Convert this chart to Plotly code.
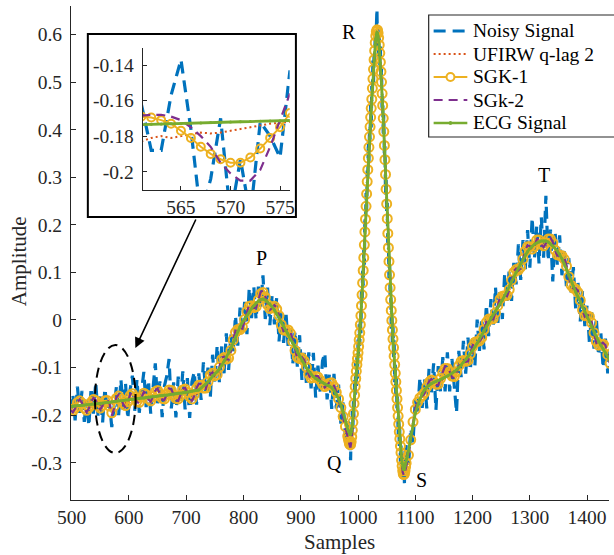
import plotly.graph_objects as go

# ---------------- data ----------------
# sample grid: every 4th sample, every sample through the QRS complex
SAMPLES = list(range(498, 983, 4)) + list(range(983, 1085)) + list(range(1088, 1441, 4))

ECG = [
    -0.182, -0.181, -0.181, -0.180, -0.180, -0.179, -0.179, -0.178, -0.178, -0.177,
    -0.177, -0.176, -0.176, -0.175, -0.175, -0.174, -0.173, -0.173, -0.172, -0.171,
    -0.171, -0.170, -0.170, -0.169, -0.168, -0.168, -0.167, -0.167, -0.166, -0.165,
    -0.165, -0.164, -0.164, -0.163, -0.162, -0.162, -0.161, -0.161, -0.160, -0.159,
    -0.159, -0.158, -0.158, -0.157, -0.156, -0.156, -0.155, -0.154, -0.154, -0.153,
    -0.153, -0.152, -0.151, -0.150, -0.149, -0.148, -0.147, -0.143, -0.139, -0.135,
    -0.130, -0.124, -0.118, -0.113, -0.109, -0.103, -0.095, -0.087, -0.078, -0.070,
    -0.060, -0.048, -0.036, -0.024, -0.014, -0.005, 0.003, 0.010, 0.017, 0.024,
    0.030, 0.036, 0.040, 0.043, 0.044, 0.042, 0.038, 0.034, 0.028, 0.021,
    0.013, 0.005, -0.004, -0.013, -0.022, -0.031, -0.040, -0.049, -0.058, -0.068,
    -0.077, -0.086, -0.094, -0.101, -0.108, -0.114, -0.119, -0.123, -0.126, -0.129,
    -0.131, -0.134, -0.137, -0.139, -0.142, -0.148, -0.156, -0.166, -0.178, -0.193,
    -0.212, -0.230,
    -0.233, -0.236, -0.239, -0.240, -0.240, -0.236, -0.230, -0.221, -0.209, -0.195,
    -0.178, -0.160, -0.142, -0.125, -0.110, -0.096, -0.083, -0.071, -0.058, -0.044,
    -0.029, -0.012, 0.007, 0.028, 0.051, 0.076, 0.102, 0.129, 0.156, 0.183,
    0.210, 0.237, 0.263, 0.289, 0.314, 0.338, 0.361, 0.383, 0.404, 0.424,
    0.443, 0.462, 0.485, 0.505, 0.525, 0.545, 0.563, 0.579, 0.591, 0.600,
    0.604, 0.603, 0.597, 0.587, 0.574, 0.558, 0.540, 0.520, 0.498, 0.474,
    0.449, 0.422, 0.394, 0.365, 0.335, 0.304, 0.273, 0.242, 0.211, 0.180,
    0.150, 0.121, 0.093, 0.066, 0.041, 0.018, -0.003, -0.023, -0.042, -0.060,
    -0.078, -0.096, -0.114, -0.132, -0.150, -0.168, -0.186, -0.204, -0.221, -0.237,
    -0.252, -0.266, -0.279, -0.291, -0.301, -0.309, -0.314, -0.315, -0.313, -0.308,
    -0.301, -0.293,
    -0.276, -0.248, -0.218, -0.196, -0.179, -0.166, -0.155, -0.147, -0.141, -0.137,
    -0.134, -0.131, -0.129, -0.127, -0.125, -0.123, -0.120, -0.118, -0.115, -0.112,
    -0.109, -0.105, -0.100, -0.095, -0.089, -0.083, -0.077, -0.071, -0.064, -0.057,
    -0.049, -0.040, -0.031, -0.022, -0.013, -0.004, 0.004, 0.011, 0.019, 0.026,
    0.034, 0.042, 0.051, 0.060, 0.070, 0.080, 0.090, 0.100, 0.109, 0.119,
    0.128, 0.137, 0.144, 0.150, 0.155, 0.159, 0.162, 0.164, 0.166, 0.166,
    0.166, 0.164, 0.160, 0.156, 0.151, 0.145, 0.138, 0.129, 0.118, 0.107,
    0.095, 0.083, 0.071, 0.059, 0.048, 0.037, 0.027, 0.017, 0.007, -0.003,
    -0.014, -0.025, -0.035, -0.045, -0.053, -0.061, -0.069, -0.077, -0.085,
]

SGK1 = [
    -0.188, -0.191, -0.185, -0.174, -0.170, -0.175, -0.185, -0.190, -0.184, -0.173,
    -0.167, -0.170, -0.180, -0.185, -0.179, -0.170, -0.1695, -0.181, -0.195, -0.181,
    -0.165, -0.160, -0.166, -0.175, -0.180, -0.172, -0.159, -0.155, -0.162, -0.171,
    -0.173, -0.162, -0.154, -0.157, -0.166, -0.170, -0.161, -0.151, -0.148, -0.155,
    -0.165, -0.166, -0.156, -0.147, -0.148, -0.158, -0.165, -0.166, -0.158, -0.147,
    -0.145, -0.152, -0.161, -0.166, -0.157, -0.144, -0.137, -0.137, -0.143, -0.143,
    -0.130, -0.116, -0.112, -0.117, -0.115, -0.099, -0.083, -0.079, -0.082, -0.080,
    -0.064, -0.042, -0.026, -0.020, -0.020, -0.015, 0.001, 0.018, 0.029, 0.030,
    0.026, 0.028, 0.042, 0.055, 0.058, 0.048, 0.032, 0.024, 0.026, 0.029,
    0.023, 0.009, -0.010, -0.021, -0.022, -0.021, -0.028, -0.045, -0.064, -0.078,
    -0.081, -0.080, -0.086, -0.099, -0.114, -0.122, -0.121, -0.119, -0.120, -0.127,
    -0.135, -0.140, -0.137, -0.133, -0.132, -0.140, -0.152, -0.166, -0.184, -0.203,
    -0.224, -0.244,
    -0.249, -0.255, -0.260, -0.262, -0.262, -0.256, -0.246, -0.232, -0.215, -0.197,
    -0.176, -0.158, -0.140, -0.123, -0.108, -0.094, -0.081, -0.069, -0.056, -0.042,
    -0.027, -0.010, 0.009, 0.030, 0.053, 0.078, 0.104, 0.131, 0.158, 0.185,
    0.212, 0.239, 0.265, 0.291, 0.316, 0.340, 0.363, 0.385, 0.406, 0.426,
    0.445, 0.464, 0.487, 0.507, 0.527, 0.547, 0.566, 0.583, 0.597, 0.606,
    0.610, 0.609, 0.603, 0.593, 0.578, 0.561, 0.542, 0.522, 0.500, 0.476,
    0.451, 0.424, 0.396, 0.367, 0.337, 0.306, 0.275, 0.244, 0.213, 0.182,
    0.152, 0.123, 0.095, 0.068, 0.043, 0.020, -0.001, -0.021, -0.040, -0.058,
    -0.076, -0.094, -0.112, -0.130, -0.148, -0.166, -0.184, -0.202, -0.219, -0.235,
    -0.250, -0.265, -0.279, -0.295, -0.307, -0.317, -0.324, -0.325, -0.323, -0.317,
    -0.309, -0.301,
    -0.284, -0.252, -0.214, -0.188, -0.173, -0.164, -0.159, -0.153, -0.141, -0.131,
    -0.126, -0.129, -0.135, -0.135, -0.123, -0.111, -0.102, -0.102, -0.109, -0.118,
    -0.119, -0.109, -0.096, -0.087, -0.085, -0.087, -0.085, -0.071, -0.056, -0.047,
    -0.045, -0.044, -0.037, -0.020, -0.005, 0.002, 0.002, 0.003, 0.015, 0.030,
    0.044, 0.050, 0.051, 0.052, 0.064, 0.084, 0.100, 0.106, 0.105, 0.111,
    0.128, 0.145, 0.154, 0.154, 0.149, 0.155, 0.168, 0.168, 0.160, 0.156,
    0.162, 0.170, 0.170, 0.162, 0.147, 0.137, 0.136, 0.135, 0.128, 0.113,
    0.091, 0.073, 0.067, 0.065, 0.058, 0.041, 0.021, 0.009, 0.009, 0.007,
    -0.006, -0.027, -0.045, -0.053, -0.051, -0.051, -0.057, -0.073, -0.091,
]

SGK2 = [
    -0.190, -0.194, -0.186, -0.172, -0.167, -0.174, -0.187, -0.194, -0.186, -0.172,
    -0.164, -0.168, -0.181, -0.188, -0.180, -0.169, -0.168, -0.175, -0.201, -0.186,
    -0.163, -0.157, -0.165, -0.177, -0.184, -0.173, -0.157, -0.151, -0.161, -0.173,
    -0.175, -0.161, -0.151, -0.155, -0.167, -0.172, -0.161, -0.148, -0.144, -0.154,
    -0.167, -0.168, -0.155, -0.144, -0.146, -0.159, -0.168, -0.170, -0.159, -0.145,
    -0.143, -0.152, -0.164, -0.171, -0.159, -0.143, -0.134, -0.135, -0.144, -0.145,
    -0.130, -0.114, -0.110, -0.118, -0.117, -0.098, -0.079, -0.077, -0.083, -0.083,
    -0.065, -0.040, -0.023, -0.019, -0.022, -0.018, 0.000, 0.020, 0.033, 0.032,
    0.025, 0.026, 0.043, 0.059, 0.062, 0.050, 0.030, 0.021, 0.025, 0.031,
    0.026, 0.010, -0.012, -0.023, -0.022, -0.018, -0.024, -0.044, -0.066, -0.081,
    -0.082, -0.078, -0.084, -0.098, -0.116, -0.124, -0.122, -0.118, -0.118, -0.126,
    -0.136, -0.142, -0.137, -0.131, -0.129, -0.138, -0.151, -0.166, -0.186, -0.206,
    -0.228, -0.248,
    -0.251, -0.258, -0.264, -0.266, -0.266, -0.260, -0.249, -0.234, -0.216, -0.197,
    -0.178, -0.160, -0.142, -0.125, -0.110, -0.096, -0.083, -0.071, -0.058, -0.044,
    -0.029, -0.012, 0.007, 0.028, 0.051, 0.076, 0.102, 0.129, 0.156, 0.183,
    0.210, 0.237, 0.263, 0.289, 0.314, 0.338, 0.361, 0.383, 0.404, 0.424,
    0.443, 0.462, 0.485, 0.505, 0.525, 0.545, 0.563, 0.579, 0.592, 0.601,
    0.605, 0.604, 0.598, 0.588, 0.575, 0.558, 0.540, 0.520, 0.498, 0.474,
    0.449, 0.422, 0.394, 0.365, 0.335, 0.304, 0.273, 0.242, 0.211, 0.180,
    0.150, 0.121, 0.093, 0.066, 0.041, 0.018, -0.003, -0.023, -0.042, -0.060,
    -0.078, -0.096, -0.114, -0.132, -0.150, -0.168, -0.186, -0.204, -0.221, -0.238,
    -0.254, -0.269, -0.283, -0.297, -0.309, -0.320, -0.326, -0.327, -0.325, -0.319,
    -0.311, -0.303,
    -0.286, -0.253, -0.213, -0.186, -0.171, -0.163, -0.160, -0.155, -0.141, -0.129,
    -0.124, -0.128, -0.137, -0.137, -0.122, -0.107, -0.097, -0.097, -0.107, -0.120,
    -0.122, -0.110, -0.095, -0.085, -0.084, -0.088, -0.087, -0.071, -0.054, -0.044,
    -0.044, -0.045, -0.039, -0.019, -0.003, 0.004, 0.001, 0.001, 0.014, 0.031,
    0.047, 0.052, 0.051, 0.050, 0.062, 0.085, 0.103, 0.108, 0.104, 0.109,
    0.128, 0.147, 0.157, 0.155, 0.147, 0.154, 0.170, 0.169, 0.158, 0.153,
    0.161, 0.172, 0.173, 0.164, 0.146, 0.135, 0.135, 0.137, 0.131, 0.115,
    0.090, 0.070, 0.066, 0.067, 0.061, 0.042, 0.019, 0.007, 0.010, 0.010,
    -0.004, -0.028, -0.048, -0.055, -0.050, -0.048, -0.053, -0.072, -0.093,
]

UFIRW = [
    -0.185, -0.187, -0.189, -0.185, -0.180, -0.177, -0.180, -0.184, -0.187, -0.183,
    -0.178, -0.174, -0.176, -0.180, -0.183, -0.179, -0.181, -0.179, -0.177, -0.173,
    -0.173, -0.170, -0.168, -0.170, -0.174, -0.177, -0.172, -0.166, -0.163, -0.166,
    -0.171, -0.171, -0.166, -0.161, -0.162, -0.167, -0.168, -0.164, -0.158, -0.156,
    -0.160, -0.164, -0.165, -0.159, -0.154, -0.155, -0.159, -0.162, -0.163, -0.158,
    -0.153, -0.151, -0.154, -0.158, -0.160, -0.155, -0.148, -0.141, -0.139, -0.140,
    -0.137, -0.127, -0.117, -0.113, -0.114, -0.109, -0.096, -0.084, -0.077, -0.075,
    -0.068, -0.053, -0.036, -0.022, -0.015, -0.011, -0.005, 0.006, 0.018, 0.027,
    0.030, 0.031, 0.033, 0.041, 0.047, 0.046, 0.038, 0.028, 0.020, 0.017,
    0.014, 0.007, -0.005, -0.019, -0.029, -0.034, -0.038, -0.046, -0.059, -0.074,
    -0.085, -0.091, -0.094, -0.100, -0.110, -0.120, -0.126, -0.127, -0.127, -0.129,
    -0.133, -0.139, -0.143, -0.142, -0.142, -0.146, -0.155, -0.167, -0.181, -0.199,
    -0.220, -0.239,
    -0.229, -0.232, -0.235, -0.236, -0.236, -0.232, -0.226, -0.218, -0.207, -0.194,
    -0.178, -0.161, -0.144, -0.127, -0.112, -0.098, -0.085, -0.073, -0.060, -0.046,
    -0.031, -0.014, 0.005, 0.026, 0.049, 0.074, 0.100, 0.127, 0.154, 0.181,
    0.208, 0.235, 0.261, 0.287, 0.312, 0.336, 0.359, 0.381, 0.402, 0.422,
    0.441, 0.460, 0.482, 0.501, 0.520, 0.539, 0.556, 0.571, 0.582, 0.590,
    0.594, 0.593, 0.588, 0.579, 0.567, 0.552, 0.535, 0.516, 0.495, 0.472,
    0.447, 0.420, 0.392, 0.363, 0.333, 0.302, 0.271, 0.240, 0.209, 0.178,
    0.148, 0.119, 0.091, 0.064, 0.039, 0.016, -0.005, -0.025, -0.044, -0.062,
    -0.080, -0.098, -0.116, -0.134, -0.152, -0.170, -0.188, -0.206, -0.222, -0.237,
    -0.251, -0.264, -0.276, -0.287, -0.297, -0.305, -0.310, -0.311, -0.309, -0.304,
    -0.297, -0.289,
    -0.283, -0.255, -0.223, -0.197, -0.178, -0.166, -0.157, -0.152, -0.147, -0.140,
    -0.134, -0.130, -0.131, -0.133, -0.132, -0.125, -0.117, -0.112, -0.110, -0.112,
    -0.115, -0.113, -0.105, -0.096, -0.088, -0.084, -0.082, -0.078, -0.067, -0.056,
    -0.047, -0.041, -0.036, -0.028, -0.015, -0.003, 0.004, 0.007, 0.012, 0.021,
    0.033, 0.044, 0.052, 0.057, 0.063, 0.074, 0.089, 0.102, 0.109, 0.114,
    0.121, 0.134, 0.145, 0.152, 0.154, 0.153, 0.157, 0.164, 0.165, 0.160,
    0.158, 0.159, 0.160, 0.158, 0.151, 0.140, 0.131, 0.125, 0.118, 0.109,
    0.095, 0.078, 0.063, 0.054, 0.048, 0.039, 0.026, 0.011, 0.000, -0.005,
    -0.012, -0.024, -0.039, -0.053, -0.060, -0.063, -0.067, -0.074, -0.086,
]

NOISY = [
    -0.192, -0.156, -0.211, -0.140, -0.195, -0.149, -0.214, -0.168, -0.223, -0.142,
    -0.197, -0.131, -0.201, -0.160, -0.215, -0.144, -0.188, -0.176, -0.225, -0.180,
    -0.141, -0.200, -0.125, -0.189, -0.133, -0.208, -0.147, -0.117, -0.191, -0.125,
    -0.195, -0.149, -0.109, -0.183, -0.127, -0.197, -0.136, -0.091, -0.175, -0.129,
    -0.204, -0.138, -0.118, -0.082, -0.186, -0.131, -0.205, -0.119, -0.174, -0.108,
    -0.188, -0.122, -0.206, -0.130, -0.109, -0.178, -0.112, -0.168, -0.089, -0.150,
    -0.100, -0.164, -0.073, -0.133, -0.054, -0.133, -0.055, -0.112, -0.028, -0.105,
    -0.030, -0.068, 0.009, -0.054, 0.026, -0.030, 0.038, -0.030, 0.067, 0.004,
    0.070, 0.001, 0.070, 0.028, 0.094, 0.002, 0.068, -0.011, 0.053, -0.009,
    0.048, -0.045, 0.016, -0.048, 0.018, -0.056, -0.010, -0.094, -0.023, -0.098,
    -0.032, -0.126, -0.069, -0.136, -0.068, -0.144, -0.069, -0.163, -0.096, -0.154,
    -0.086, -0.069, -0.167, -0.114, -0.187, -0.113, -0.186, -0.136, -0.218, -0.173,
    -0.247, -0.260,
    -0.213, -0.266, -0.224, -0.280, -0.295, -0.226, -0.255, -0.191, -0.229, -0.170,
    -0.208, -0.125, -0.157, -0.085, -0.140, -0.076, -0.123, -0.041, -0.078, -0.009,
    -0.054, 0.003, -0.028, 0.068, 0.031, 0.106, 0.072, 0.149, 0.116, 0.218,
    0.195, 0.267, 0.228, 0.314, 0.294, 0.378, 0.331, 0.403, 0.379, 0.459,
    0.403, 0.492, 0.470, 0.550, 0.495, 0.565, 0.528, 0.609, 0.571, 0.615,
    0.654, 0.573, 0.617, 0.547, 0.604, 0.533, 0.575, 0.500, 0.528, 0.439,
    0.469, 0.392, 0.434, 0.340, 0.365, 0.264, 0.298, 0.222, 0.246, 0.150,
    0.170, 0.086, 0.133, 0.046, 0.071, -0.022, 0.022, -0.053, -0.007, -0.080,
    -0.038, -0.131, -0.094, -0.162, -0.115, -0.193, -0.156, -0.244, -0.201, -0.267,
    -0.227, -0.301, -0.264, -0.331, -0.281, -0.339, -0.339, -0.295, -0.343, -0.273,
    -0.321, -0.263,
    -0.311, -0.228, -0.258, -0.166, -0.199, -0.121, -0.185, -0.122, -0.186, -0.102,
    -0.154, -0.091, -0.189, -0.097, -0.150, -0.078, -0.150, -0.068, -0.150, -0.082,
    -0.149, -0.195, -0.065, -0.120, -0.044, -0.113, -0.037, -0.106, -0.039, -0.097,
    0.001, -0.065, 0.004, -0.062, 0.032, -0.034, 0.044, -0.014, 0.069, -0.009,
    0.064, 0.002, 0.096, 0.040, 0.105, 0.040, 0.120, 0.075, 0.159, 0.084,
    0.168, 0.107, 0.189, 0.110, 0.215, 0.129, 0.197, 0.119, 0.216, 0.131,
    0.261, 0.124, 0.190, 0.081, 0.186, 0.115, 0.178, 0.094, 0.148, 0.067,
    0.130, 0.058, 0.111, 0.024, 0.078, -0.003, 0.062, -0.013, 0.032, -0.048,
    0.016, -0.060, 0.005, -0.075, -0.028, -0.101, -0.039, -0.112, -0.065,
]

# zoomed inset: samples 561..576 at full resolution
INSET_SAMPLES = list(range(561, 577))
INSET_NOISY = [-0.162, -0.188, -0.188, -0.157, -0.137, -0.176, -0.225, -0.204,
               -0.170, -0.225, -0.193, -0.225, -0.172, -0.180, -0.192, -0.143]
INSET_UFIRW = [-0.183, -0.181, -0.180, -0.181, -0.180, -0.179, -0.178, -0.1785,
               -0.178, -0.177, -0.176, -0.175, -0.174, -0.173, -0.1725, -0.172]
INSET_SGK1 = [-0.169, -0.1695, -0.171, -0.173, -0.177, -0.181, -0.186, -0.190,
              -0.193, -0.195, -0.195, -0.192, -0.187, -0.181, -0.175, -0.167]
INSET_SGK2 = [-0.1685, -0.168, -0.168, -0.169, -0.171, -0.175, -0.180, -0.186,
              -0.195, -0.201, -0.205, -0.205, -0.199, -0.186, -0.171, -0.156]
INSET_ECG = [-0.1735, -0.1733, -0.1732, -0.1730, -0.1729, -0.1727, -0.1726, -0.1724,
             -0.1722, -0.1721, -0.1719, -0.1718, -0.1716, -0.1715, -0.1713, -0.1712]

SERIES_NAMES = ["Noisy Signal", "UFIRW q-lag 2", "SGK-1", "SGk-2", "ECG Signal"]

X_TICKS = [500, 600, 700, 800, 900, 1000, 1100, 1200, 1300, 1400]
X_TICK_LABELS = ["500", "600", "700", "800", "900", "1000", "1100", "1200", "1300", "1400"]
Y_TICKS = [-0.3, -0.2, -0.1, 0, 0.1, 0.2, 0.3, 0.4, 0.5, 0.6]
Y_TICK_LABELS = ["-0.3", "-0.2", "-0.1", "0", "0.1", "0.2", "0.3", "0.4", "0.5", "0.6"]
INSET_X_TICKS = [565, 570, 575]
INSET_X_TICK_LABELS = ["565", "570", "575"]
INSET_Y_TICKS = [-0.2, -0.18, -0.16, -0.14]
INSET_Y_TICK_LABELS = ["-0.2", "-0.18", "-0.16", "-0.14"]

WAVE_LABELS = ["P", "Q", "R", "S", "T"]
WAVE_X = [831.5, 958.5, 984.4, 1111.2, 1324.5]
WAVE_Y = [0.130, -0.301, 0.606, -0.336, 0.305]

for arr in (ECG, SGK1, SGK2, UFIRW, NOISY):
    assert len(arr) == len(SAMPLES), (len(arr), len(SAMPLES))

# ---------------- style ----------------
FONT = "Liberation Serif"
AX = "#262626"
C_BLUE, C_ORANGE, C_YELLOW, C_PURPLE, C_GREEN = "#0072BD", "#D95319", "#EDB120", "#7E2F8E", "#77AC30"
COLORS = [C_BLUE, C_ORANGE, C_YELLOW, C_PURPLE, C_GREEN]
DASH_NOISY, DASH_UFIRW, DASH_SGK2 = "12px,7px", "2px,3px", "9px,6px"

fig = go.Figure()


def add_series(x, noisy, ufirw, sgk1, sgk2, ecg, xa, ya, msize):
    fig.add_trace(go.Scatter(x=x, y=noisy, name=SERIES_NAMES[0], mode="lines",
                             line=dict(color=C_BLUE, width=3.2, dash=DASH_NOISY),
                             xaxis=xa, yaxis=ya, showlegend=False))
    fig.add_trace(go.Scatter(x=x, y=ufirw, name=SERIES_NAMES[1], mode="lines",
                             line=dict(color=C_ORANGE, width=2, dash=DASH_UFIRW),
                             xaxis=xa, yaxis=ya, showlegend=False))
    fig.add_trace(go.Scatter(x=x, y=sgk1, name=SERIES_NAMES[2], mode="lines+markers",
                             line=dict(color=C_YELLOW, width=2),
                             marker=dict(symbol="circle-open", size=msize, color=C_YELLOW,
                                         line=dict(width=2, color=C_YELLOW)),
                             xaxis=xa, yaxis=ya, showlegend=False))
    fig.add_trace(go.Scatter(x=x, y=sgk2, name=SERIES_NAMES[3], mode="lines",
                             line=dict(color=C_PURPLE, width=2.2, dash=DASH_SGK2),
                             xaxis=xa, yaxis=ya, showlegend=False))
    fig.add_trace(go.Scatter(x=x, y=ecg, name=SERIES_NAMES[4], mode="lines+markers",
                             line=dict(color=C_GREEN, width=2.8),
                             marker=dict(symbol="circle", size=3, color=C_GREEN),
                             xaxis=xa, yaxis=ya, showlegend=False))


add_series(SAMPLES, NOISY, UFIRW, SGK1, SGK2, ECG, "x", "y", 9)
add_series(INSET_SAMPLES, INSET_NOISY, INSET_UFIRW, INSET_SGK1, INSET_SGK2, INSET_ECG,
           "x2", "y2", 8)

axis_common = dict(showline=True, linecolor=AX, linewidth=1, ticks="inside",
                   tickcolor=AX, showgrid=False, zeroline=False,
                   tickfont=dict(family=FONT, size=19.5, color=AX))

# pixel geometry of the plot area (l=71, r=0, t=6, b=55 on 614x555)
PW, PH, L, T = 543.0, 494.0, 71.0, 6.0


def px(xp):
    return (xp - L) / PW


def py(yp):
    return (T + PH - yp) / PH


fig.update_layout(
    width=614, height=555,
    margin=dict(l=71, r=0, t=6, b=55),
    paper_bgcolor="white", plot_bgcolor="white",
    font=dict(family=FONT, color="black"),
    showlegend=False,
    xaxis=dict(domain=[0, 1], range=[498.8, 1438.2], tickvals=X_TICKS,
               ticktext=X_TICK_LABELS, ticklen=5, ticklabelstandoff=0, **axis_common),
    yaxis=dict(domain=[0, 1], range=[-0.3784, 0.660], tickvals=Y_TICKS,
               ticktext=Y_TICK_LABELS, ticklen=5, ticklabelstandoff=4, **axis_common),
    xaxis2=dict(domain=[px(143.3), px(291.7)], anchor="y2", range=[561.13, 575.97],
                tickvals=INSET_X_TICKS, ticktext=INSET_X_TICK_LABELS, ticklen=4,
                ticklabelstandoff=0, **axis_common),
    yaxis2=dict(domain=[py(190), py(48.3)], anchor="x2", range=[-0.2103, -0.1306],
                tickvals=INSET_Y_TICKS, ticktext=INSET_Y_TICK_LABELS, ticklen=4,
                ticklabelstandoff=4, **axis_common),
)

# inset frame, dashed ellipse and arrow
fig.add_shape(type="rect", xref="paper", yref="paper",
              x0=px(88), x1=px(298), y0=py(217), y1=py(34),
              line=dict(color="black", width=2), layer="above")
fig.add_shape(type="circle", xref="x", yref="y",
              x0=540.7, x1=611.6, y0=-0.2796, y1=-0.0526,
              line=dict(color="black", width=2, dash="10px,6px"))
fig.add_annotation(x=611.2, y=-0.0589, ax=718.0, ay=0.2144, xref="x", yref="y",
                   axref="x", ayref="y", text="", showarrow=True, arrowhead=2,
                   arrowsize=1.3, arrowwidth=1.6, arrowcolor="black")

# ---- legend drawn by hand so its rows keep the reference spacing ----
LEG_ROWS = [31, 54, 77, 100, 123]          # pixel rows of the entries
fig.add_shape(type="rect", xref="paper", yref="paper",
              x0=px(432), x1=px(640), y0=py(137), y1=py(15),
              line=dict(color=AX, width=1.2), fillcolor="white", layer="above")
line_styles = [dict(width=3.2, dash=DASH_NOISY), dict(width=2, dash=DASH_UFIRW),
               dict(width=2, dash="solid"), dict(width=2.2, dash=DASH_SGK2),
               dict(width=2.6, dash="solid")]
for i, (name, col, sty) in enumerate(zip(SERIES_NAMES, COLORS, line_styles)):
    yy = py(LEG_ROWS[i])
    fig.add_shape(type="line", xref="paper", yref="paper", x0=px(437), x1=px(471),
                  y0=yy, y1=yy, line=dict(color=col, **sty), layer="above")
    fig.add_annotation(x=px(475), y=yy, xref="paper", yref="paper", text=name,
                       showarrow=False, xanchor="left", yanchor="middle",
                       font=dict(family=FONT, size=19.5, color="black"))
# marker glyphs in the legend (open circle for SGK-1, dot for ECG)
fig.add_shape(type="circle", xref="paper", yref="paper",
              x0=px(450), x1=px(458), y0=py(LEG_ROWS[2] + 4), y1=py(LEG_ROWS[2] - 4),
              line=dict(color=C_YELLOW, width=2), fillcolor="white", layer="above")
fig.add_shape(type="circle", xref="paper", yref="paper",
              x0=px(452.5), x1=px(455.5), y0=py(LEG_ROWS[4] + 1.5), y1=py(LEG_ROWS[4] - 1.5),
              line=dict(color=C_GREEN, width=1), fillcolor=C_GREEN, layer="above")

for lab, xv, yv in zip(WAVE_LABELS, WAVE_X, WAVE_Y):
    fig.add_annotation(x=xv, y=yv, xref="x", yref="y", text=lab, showarrow=False,
                       xanchor="center", yanchor="middle",
                       font=dict(family=FONT, size=20, color="black"))

fig.add_annotation(x=px(342), y=py(542), xref="paper", yref="paper", text="Samples",
                   showarrow=False, xanchor="center", yanchor="middle",
                   font=dict(family=FONT, size=21, color=AX))
fig.add_annotation(x=px(18.7), y=py(261), xref="paper", yref="paper", text="Amplitude",
                   textangle=-90, showarrow=False, xanchor="center", yanchor="middle",
                   font=dict(family=FONT, size=21, color=AX))

fig.write_html("out.html")
